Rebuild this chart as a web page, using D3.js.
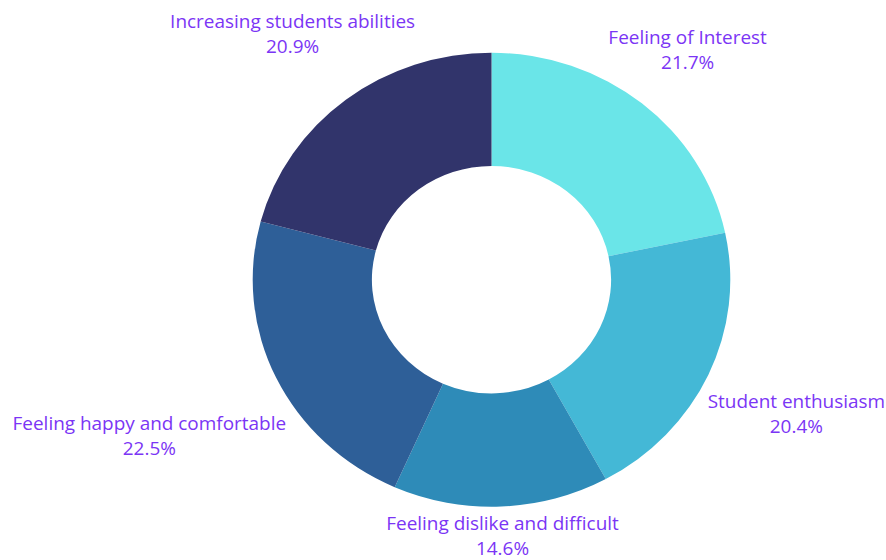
<html>
<head>
<script src="https://cdn.jsdelivr.net/npm/d3@7"></script>
<style>
  body { margin: 0; background: #fff; }
  text { font-family: "Open Sans", sans-serif; }
</style>
</head>
<body>
<svg width="886" height="560"></svg>
<script>
var categories = ["Feeling of Interest", "Student enthusiasm", "Feeling dislike and difficult",
                  "Feeling happy and comfortable", "Increasing students abilities"];
var values = [21.7, 20.4, 14.6, 22.5, 20.9];
var colors = ["#6ae5e8", "#44b8d6", "#2e8bb8", "#2e5f98", "#31346b"];

var svg = d3.select("svg");
var W = +svg.attr("width");
var cx = 491.5, cy = 279.7;
var R = 227, r = 113.7;
var sx = 1.052; // the chart is a bit wider than tall

var g = svg.append("g")
  .attr("transform", "translate(" + cx + "," + cy + ") scale(" + sx + ",1)");

var pie = d3.pie().sort(null).value(function(d) { return d; });
var arc = d3.arc().innerRadius(r).outerRadius(R);
var arcs = pie(values);

g.selectAll("path.slice")
  .data(arcs)
  .enter()
  .append("path")
  .attr("class", "slice")
  .attr("d", arc)
  .attr("fill", function(d, i) { return colors[i]; });

// labels outside, pushed out until the box clears the ring
var pad = 6, lineH = 25, fs = 18;
var labels = g.selectAll("g.lab")
  .data(arcs)
  .enter()
  .append("g")
  .attr("class", "lab");

labels.each(function(d, i) {
  var el = d3.select(this);
  var t = el.append("text")
    .attr("text-anchor", "middle")
    .attr("fill", "#7b35f5")
    .style("font-size", fs + "px");
  t.append("tspan").attr("x", 0).attr("y", 0).text(categories[i]);
  t.append("tspan").attr("x", 0).attr("y", lineH).text(d.value.toFixed(1) + "%");
  var tw = t.node().getBBox().width;
  var w = tw + 8;
  var h = 46;
  var a = (d.startAngle + d.endAngle) / 2;
  var ux = Math.sin(a), uy = -Math.cos(a);
  function near(dd) {
    var bx = dd * ux, by = dd * uy;
    var px = Math.max(bx - w / 2, Math.min(0, bx + w / 2));
    var py = Math.max(by - h / 2, Math.min(0, by + h / 2));
    return Math.hypot(px, py);
  }
  var lo = 0, hi = 600;
  for (var k = 0; k < 40; k++) {
    var mid = (lo + hi) / 2;
    if (near(mid) < R + pad) lo = mid; else hi = mid;
  }
  var bx = hi * ux, by = hi * uy;
  // keep inside the page
  var maxX = (W - 1 - cx) / sx - tw / 2;
  var minX = (1 - cx) / sx + tw / 2;
  bx = Math.max(minX, Math.min(maxX, bx));
  el.attr("transform", "translate(" + bx + "," + (by - h / 2 + 17) + ")");
});
</script>
</body>
</html>
